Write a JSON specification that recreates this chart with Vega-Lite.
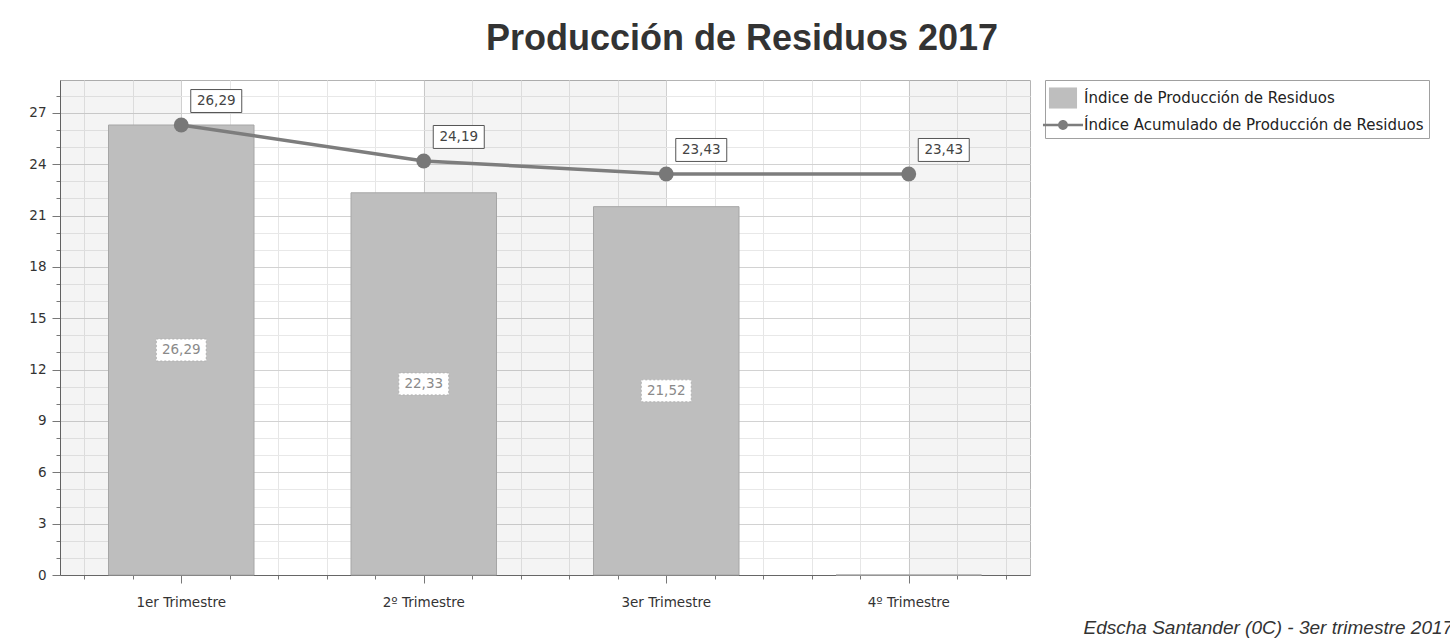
{
  "$schema": "https://vega.github.io/schema/vega-lite/v6.json",
  "autosize": {"type": "none"},
  "width": 970,
  "height": 495,
  "padding": {"left": 60, "top": 80, "right": 420, "bottom": 67},
  "background": "white",
  "title": {
    "text": "Producción de Residuos 2017",
    "font": "Liberation Sans",
    "fontSize": 36,
    "fontWeight": "bold",
    "color": "#333333",
    "anchor": "middle",
    "dx": 197,
    "offset": 22
  },
  "config": {
    "locale": {"number": {"decimal": ",", "thousands": ".", "grouping": [3], "currency": ["", " €"]}},
    "view": {"stroke": "#b4b4b4", "strokeWidth": 1},
    "font": "DejaVu Sans",
    "axisY": {
      "labelOverlap": false,
      "title": null,
      "grid": true,
      "gridColor": {"condition": {"test": "datum.value % 3 === 0", "value": "#d2d2d2"}, "value": "#e8e8e8"},
      "tickColor": "#777777",
      "tickSize": {"condition": {"test": "datum.value % 3 === 0", "value": 8}, "value": 4},
      "domainColor": "#666666",
      "labelFont": "DejaVu Sans",
      "labelFontSize": 13.5,
      "labelColor": "#333333",
      "labelPadding": 6
    },
    "legend": {"symbolOpacity": 1}
  },
  "datasets": {
    "q": [
      {"trimestre": "1er Trimestre", "indice": 26.29, "acumulado": 26.29},
      {"trimestre": "2º Trimestre", "indice": 22.33, "acumulado": 24.19},
      {"trimestre": "3er Trimestre", "indice": 21.52, "acumulado": 23.43},
      {"trimestre": "4º Trimestre", "indice": 0, "acumulado": 23.43}
    ],
    "strips": [
      {"a": 0, "b": 0.5},
      {"a": 1.5, "b": 2.5},
      {"a": 3.5, "b": 4}
    ]
  },
  "resolve": {"scale": {"x": "independent"}, "axis": {"x": "independent"}},
  "layer": [
    {
      "data": {"name": "strips"},
      "mark": {"type": "rect", "color": "#000000", "opacity": 0.045},
      "encoding": {
        "x": {
          "field": "a",
          "type": "quantitative",
          "scale": {"domain": [0, 4], "nice": false, "zero": false},
          "axis": {
            "orient": "bottom",
            "values": [0.1, 0.3, 0.5, 0.7, 0.9, 1.1, 1.3, 1.5, 1.7, 1.9, 2.1, 2.3, 2.5, 2.7, 2.9, 3.1, 3.3, 3.5, 3.7, 3.9],
            "tickCount": 30,
            "labels": false,
            "domain": false,
            "title": null,
            "grid": true,
            "gridColor": {"condition": {"test": "abs(datum.value % 1 - 0.5) < 0.01", "value": "#d2d2d2"}, "value": "#e6e6e6"},
            "tickColor": "#777777",
            "tickSize": {"condition": {"test": "abs(datum.value % 1 - 0.5) < 0.01", "value": 8}, "value": 4}
          }
        },
        "x2": {"field": "b"},
        "y": {
          "datum": 0,
          "type": "quantitative",
          "scale": {"domain": [0, 28.92], "nice": false},
          "axis": {
            "values": [0, 1, 2, 3, 4, 5, 6, 7, 8, 9, 10, 11, 12, 13, 14, 15, 16, 17, 18, 19, 20, 21, 22, 23, 24, 25, 26, 27, 28],
            "tickCount": 30,
            "labelOverlap": false,
            "labelExpr": "datum.value % 3 === 0 ? datum.label : ''"
          }
        },
        "y2": {"datum": 28.92}
      }
    },
    {
      "data": {"name": "q"},
      "layer": [
        {
          "mark": {"type": "bar", "stroke": "#a6a6a6", "strokeWidth": 1},
          "encoding": {
            "x": {
              "field": "trimestre",
              "type": "nominal",
              "sort": null,
              "scale": {"paddingInner": 0.4, "paddingOuter": 0.2},
              "axis": {
                "orient": "bottom",
                "labelAngle": 0,
                "ticks": false,
                "grid": false,
                "domain": true,
                "domainColor": "#666666",
                "labelFont": "DejaVu Sans",
                "labelFontSize": 13.5,
                "labelColor": "#333333",
                "labelPadding": 20,
                "title": "Edscha Santander (0C) - 3er trimestre 2017",
                "titleFont": "Liberation Sans",
                "titleFontStyle": "italic",
                "titleFontWeight": "normal",
                "titleFontSize": 19,
                "titleColor": "#333333",
                "titleAnchor": "start",
                "titleAlign": "left",
                "titleBaseline": "alphabetic",
                "titleX": 1023,
                "titleY": 58
              }
            },
            "y": {
              "field": "indice",
              "type": "quantitative",
              "scale": {"domain": [0, 28.92], "nice": false},
              "axis": {
                "values": [0, 1, 2, 3, 4, 5, 6, 7, 8, 9, 10, 11, 12, 13, 14, 15, 16, 17, 18, 19, 20, 21, 22, 23, 24, 25, 26, 27, 28],
                "tickCount": 30,
                "labelOverlap": false,
                "labelExpr": "datum.value % 3 === 0 ? datum.label : ''"
              }
            },
            "color": {
              "datum": "Índice de Producción de Residuos",
              "type": "nominal",
              "scale": {
                "domain": ["Índice de Producción de Residuos", "Índice Acumulado de Producción de Residuos"],
                "range": ["#bebebe", "#7d7d7d"]
              },
              "legend": {
                "title": null,
                "orient": "right",
                "offset": 15,
                "strokeColor": "#a0a0a0",
                "fillColor": "white",
                "padding": 5,
                "labelFont": "DejaVu Sans",
                "labelFontSize": 15,
                "labelColor": "#222222",
                "labelOffset": 8,
                "labelLimit": 0,
                "rowPadding": 3,
                "symbolSize": 676,
                "symbolOpacity": 1,
                "symbolStrokeWidth": 0
              }
            }
          }
        },
        {
          "transform": [{"filter": "datum.indice > 0"}],
          "mark": {
            "type": "point",
            "shape": "M-1,-0.44L1,-0.44L1,0.44L-1,0.44Z",
            "size": 2500,
            "filled": false,
            "fill": "white",
            "fillOpacity": 1,
            "stroke": "#b0b0b0",
            "strokeWidth": 1,
            "strokeDash": [2, 2],
            "opacity": 1,
            "yOffset": {"expr": "(scale('y', 0) - scale('y', datum.indice)) / 2"}
          },
          "encoding": {
            "x": {"field": "trimestre", "type": "nominal", "sort": null},
            "y": {"field": "indice", "type": "quantitative", "stack": null}
          }
        },
        {
          "transform": [{"filter": "datum.indice > 0"}],
          "mark": {
            "type": "text",
            "font": "DejaVu Sans",
            "fontSize": 13.5,
            "color": "#8a8a8a",
            "align": "center",
            "baseline": "middle",
            "yOffset": {"expr": "(scale('y', 0) - scale('y', datum.indice)) / 2"}
          },
          "encoding": {
            "x": {"field": "trimestre", "type": "nominal", "sort": null},
            "y": {"field": "indice", "type": "quantitative", "stack": null},
            "text": {"field": "indice", "type": "quantitative", "format": ".2f"}
          }
        },
        {
          "mark": {"type": "line", "strokeWidth": 3.5, "color": "#7d7d7d"},
          "encoding": {
            "x": {"field": "trimestre", "type": "nominal", "sort": null},
            "y": {"field": "acumulado", "type": "quantitative"}
          }
        },
        {
          "mark": {"type": "point", "filled": true, "size": 220, "color": "#787878", "opacity": 1},
          "encoding": {
            "x": {"field": "trimestre", "type": "nominal", "sort": null},
            "y": {"field": "acumulado", "type": "quantitative"}
          }
        },
        {
          "transform": [{"filter": "datum.indice < 0"}],
          "mark": {"type": "point", "filled": true},
          "encoding": {
            "x": {"field": "trimestre", "type": "nominal", "sort": null},
            "y": {"field": "acumulado", "type": "quantitative"},
            "color": {"datum": "Índice Acumulado de Producción de Residuos", "type": "nominal"},
            "shape": {
              "datum": "Índice Acumulado de Producción de Residuos",
              "type": "nominal",
              "scale": {
                "domain": ["Índice de Producción de Residuos", "Índice Acumulado de Producción de Residuos"],
                "range": [
                  "M-1.08,-0.81L1.08,-0.81L1.08,0.81L-1.08,0.81Z",
                  "M-1.54,-0.1L1.54,-0.1L1.54,0.1L-1.54,0.1ZM0.38,0A0.38,0.38,0,1,1,-0.38,0A0.38,0.38,0,1,1,0.38,0Z"
                ]
              },
              "legend": {"title": null}
            }
          }
        },
        {
          "mark": {
            "type": "point",
            "shape": "M-1,-0.45L1,-0.45L1,0.45L-1,0.45Z",
            "size": 2601,
            "filled": false,
            "fill": "white",
            "fillOpacity": 1,
            "stroke": "#555555",
            "strokeWidth": 1,
            "opacity": 1,
            "xOffset": 35,
            "yOffset": -24
          },
          "encoding": {
            "x": {"field": "trimestre", "type": "nominal", "sort": null},
            "y": {"field": "acumulado", "type": "quantitative"}
          }
        },
        {
          "mark": {
            "type": "text",
            "font": "DejaVu Sans",
            "fontSize": 13.5,
            "color": "#444444",
            "align": "center",
            "baseline": "middle",
            "xOffset": 35,
            "yOffset": -24
          },
          "encoding": {
            "x": {"field": "trimestre", "type": "nominal", "sort": null},
            "y": {"field": "acumulado", "type": "quantitative"},
            "text": {"field": "acumulado", "type": "quantitative", "format": ".2f"}
          }
        }
      ]
    }
  ]
}
